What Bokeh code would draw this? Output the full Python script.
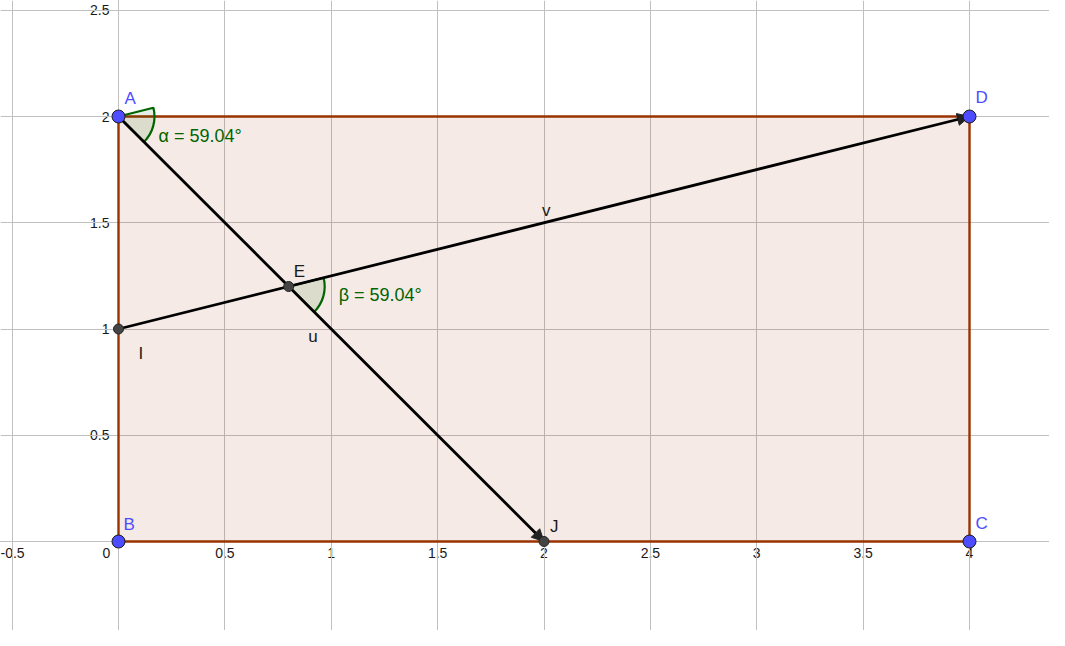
import math
from bokeh.plotting import figure
from bokeh.models import FixedTicker, Arrow, NormalHead, Range1d
from bokeh.core.properties import value
from bokeh.embed import file_html
from bokeh.resources import INLINE

# ---------------- data ----------------
corner_names = ["A", "B", "C", "D"]
corner_x = [0, 0, 4, 4]
corner_y = [2, 0, 0, 2]

aux_names = ["E", "I", "J"]
aux_x = [0.8, 0, 2]
aux_y = [1.2, 1, 0]

vec_names = ["u", "v"]
vec_x0 = [0, 0]
vec_y0 = [2, 1]
vec_x1 = [2, 4]
vec_y1 = [0, 2]

angle_labels = ["α = 59.04°", "β = 59.04°"]
angle_x = [0, 0.8]
angle_y = [2, 1.2]

x_ticks = [-0.5, 0.5, 1, 1.5, 2, 2.5, 3, 3.5, 4]
y_ticks = [-0.5, 0.5, 1, 1.5, 2, 2.5]
grid_steps = [-0.5, 0, 0.5, 1, 1.5, 2, 2.5, 3, 3.5, 4, 4.5]

# ---------------- styles / layout ----------------
FONT = "Liberation Sans"
BLUE = "#4d4dff"
GREEN = "#006400"
BROWN = "#993300"
DARK = "#444444"
TXT = "#1a1a1a"

corner_dx = [6, 5, 6, 6]
corner_dy = [-18, -17, -18, -19]
aux_dx = [5, 20, 6]
aux_dy = [-15, 24, -15]
vec_dx = [-23, -2]
vec_dy = [7, -12]
angle_dx = [40, 50]
angle_dy = [19, 8]

W, H = 1049, 630
PX_PER_UNIT_X = 212.75
PX_PER_UNIT_Y = 212.5
x0 = -118 / PX_PER_UNIT_X
y1 = 2 + 116 / PX_PER_UNIT_Y
p = figure(width=W, height=H, output_backend="svg", toolbar_location=None,
           x_range=Range1d(x0, x0 + W / PX_PER_UNIT_X),
           y_range=Range1d(y1 - H / PX_PER_UNIT_Y, y1),
           min_border=0, outline_line_color=None)
p.background_fill_color = "white"
p.border_fill_color = "white"

# grid
p.xgrid.ticker = FixedTicker(ticks=grid_steps)
p.ygrid.ticker = FixedTicker(ticks=grid_steps)
for g in (p.xgrid, p.ygrid):
    g.grid_line_color = "#c0c0c0"
    g.grid_line_width = 1

# axes through the origin
def fmt(t):
    return "%g" % t

for ax, ticks, standoff in ((p.xaxis, x_ticks, 6), (p.yaxis, y_ticks, 9)):
    ax.fixed_location = 0
    ax.level = "underlay"
    ax.ticker = FixedTicker(ticks=ticks)
    ax.major_label_overrides = {t: fmt(t) for t in ticks}
    ax.axis_line_color = "black"
    ax.axis_line_width = 1
    ax.major_tick_in = 0
    ax.major_tick_out = 0
    ax.minor_tick_in = 0
    ax.minor_tick_out = 0
    ax.major_label_standoff = standoff
    ax.major_label_text_font = FONT
    ax.major_label_text_font_size = "14px"
    ax.major_label_text_color = TXT

# origin label
p.text(x=[0], y=[0], text=["0"], x_offset=-12, y_offset=6, text_align="center",
       text_baseline="top", text_font=value(FONT), text_font_size="14px",
       text_color=TXT)

# rectangle polygon ABCD
p.patch(corner_x, corner_y, fill_color=BROWN, fill_alpha=0.1,
        line_color=BROWN, line_width=2.4)

# angle sectors (angle between vectors u and v)
ang_u = math.atan2(vec_y1[0] - vec_y0[0], vec_x1[0] - vec_x0[0])
ang_v = math.atan2(vec_y1[1] - vec_y0[1], vec_x1[1] - vec_x0[1])
p.wedge(x=angle_x, y=angle_y, radius=36, radius_units="screen",
        start_angle=ang_u, end_angle=ang_v, fill_color=GREEN, fill_alpha=0.1,
        line_color=GREEN, line_width=2.2)

# vectors
for i in range(len(vec_names)):
    arr = Arrow(x_start=vec_x0[i], y_start=vec_y0[i], x_end=vec_x1[i], y_end=vec_y1[i],
                line_color="black", line_width=2.8,
                end=NormalHead(size=12, fill_color="#222222", fill_alpha=1.0,
                               line_color="#222222", line_width=1))
    p.add_layout(arr)

vec_mx = [(a + b) / 2 for a, b in zip(vec_x0, vec_x1)]
vec_my = [(a + b) / 2 for a, b in zip(vec_y0, vec_y1)]
p.text(x=vec_mx, y=vec_my, text=vec_names, x_offset=vec_dx, y_offset=vec_dy,
       text_align="left", text_baseline="alphabetic", text_font=value(FONT),
       text_font_size="17px", text_color=TXT)

# angle labels
p.text(x=angle_x, y=angle_y, text=angle_labels, x_offset=angle_dx, y_offset=angle_dy,
       text_align="left", text_baseline="alphabetic", text_font=value(FONT),
       text_font_size="18px", text_color=GREEN)

# points
r1 = p.scatter(aux_x, aux_y, size=10, fill_color=DARK, line_color="#222222", line_width=1)
r2 = p.scatter(corner_x, corner_y, size=13, fill_color=BLUE, line_color="#1a1a1a", line_width=1)
r1.level = "overlay"
r2.level = "overlay"

# point labels
p.text(x=corner_x, y=corner_y, text=corner_names, x_offset=corner_dx, y_offset=corner_dy,
       text_align="left", text_baseline="alphabetic", text_font=value(FONT),
       text_font_size="17px", text_color=BLUE)
p.text(x=aux_x, y=aux_y, text=aux_names, x_offset=aux_dx, y_offset=aux_dy,
       text_align="left", text_baseline="alphabetic", text_font=value(FONT),
       text_font_size="17px", text_color=TXT)

open("out.html", "w").write(file_html(p, INLINE))
